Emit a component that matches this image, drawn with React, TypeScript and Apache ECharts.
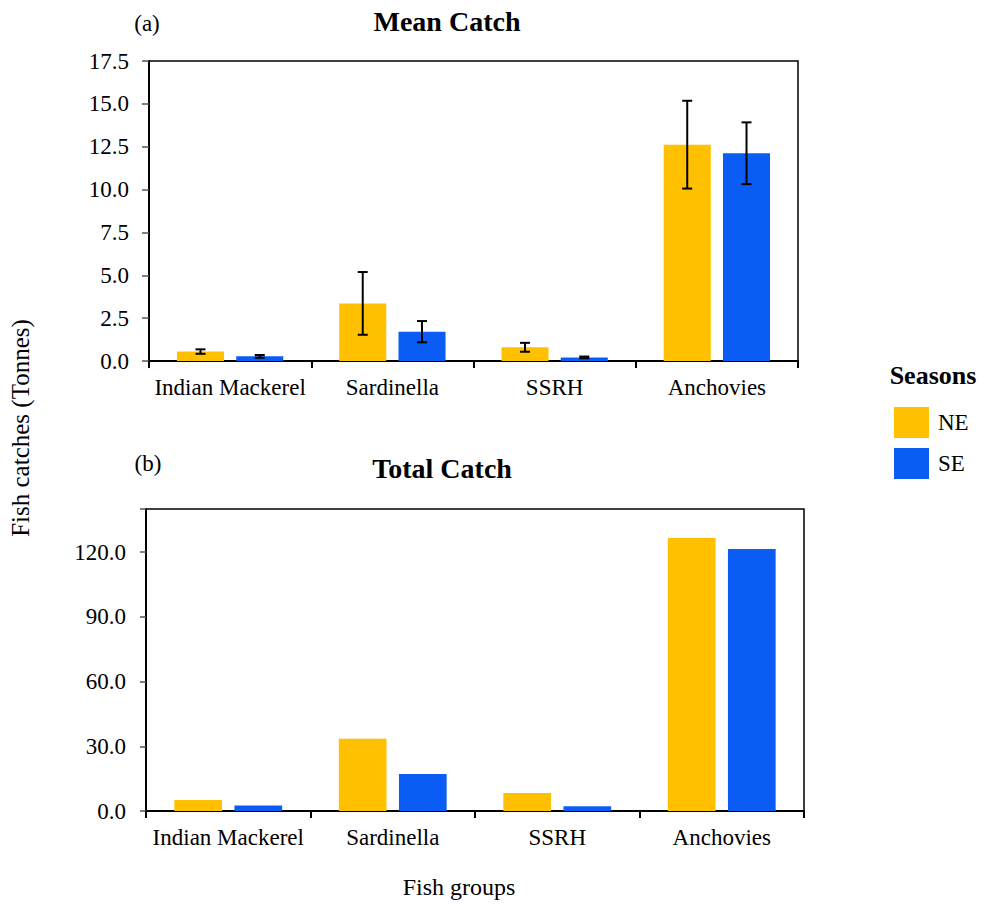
import React, { useEffect, useRef } from "react";
import * as echarts from "echarts";

const categories = ["Indian Mackerel", "Sardinella", "SSRH", "Anchovies"];
const seasons = ["NE", "SE"];
const meanNE = [0.55, 3.36, 0.8, 12.62];
const meanSE = [0.27, 1.71, 0.21, 12.12];
const errNE = [0.13, 1.83, 0.26, 2.56];
const errSE = [0.08, 0.62, 0.05, 1.8];
const totalNE = [5.1, 33.5, 8.3, 126.6];
const totalSE = [2.6, 17.2, 2.2, 121.4];
const meanAxisMax = 17.5;
const totalAxisMax = 140;

const NE_COLOR = "#FFC000";
const SE_COLOR = "#0B5CF5";
const FONT = "Liberation Serif";
const BAR_W = 0.29;
const BAR_GAP = 0.26;

export default function App() {
  const ref = useRef<HTMLDivElement>(null);
  useEffect(() => {
    document.body.style.margin = "0";
    const chart = echarts.init(ref.current!, null, { renderer: "svg" });
    const errData: number[][] = [];
    categories.forEach((_, i) => {
      errData.push([i, meanNE[i], errNE[i], 0]);
      errData.push([i, meanSE[i], errSE[i], 1]);
    });
    const xAxisCommon = {
      type: "category" as const,
      data: categories,
      axisLine: { lineStyle: { color: "#000", width: 2 } },
      axisTick: { show: true, length: 7, lineStyle: { color: "#000", width: 2 } },
      axisLabel: { color: "#000", fontFamily: FONT, fontSize: 23, margin: 15, interval: 0 },
    };
    const option: any = {
      animation: false,
      backgroundColor: "#fff",
      textStyle: { fontFamily: FONT },
      grid: [
        { left: 149, top: 61, width: 649, height: 300, show: true, borderColor: "#000", borderWidth: 1.5, backgroundColor: "transparent" },
        { left: 146, top: 509, width: 658, height: 302, show: true, borderColor: "#000", borderWidth: 1.5, backgroundColor: "transparent" },
      ],
      xAxis: [
        { ...xAxisCommon, gridIndex: 0 },
        { ...xAxisCommon, gridIndex: 1 },
      ],
      yAxis: [
        {
          type: "value",
          gridIndex: 0,
          min: 0,
          max: meanAxisMax,
          interval: 2.5,
          splitLine: { show: false },
          axisLine: { show: true, lineStyle: { color: "#000", width: 2 } },
          axisTick: { show: true, length: 7, lineStyle: { color: "#555", width: 1.5 } },
          axisLabel: { color: "#000", fontFamily: FONT, fontSize: 23, margin: 20, formatter: (v: number) => v.toFixed(1) },
        },
        {
          type: "value",
          gridIndex: 1,
          min: 0,
          max: totalAxisMax,
          interval: 30,
          splitLine: { show: false },
          axisLine: { show: true, lineStyle: { color: "#000", width: 2 } },
          axisTick: { show: true, length: 6, lineStyle: { color: "#555", width: 1.5 } },
          axisLabel: {
            color: "#000",
            fontFamily: FONT,
            fontSize: 23,
            margin: 20,
            formatter: (v: number) => (v >= totalAxisMax ? "" : v.toFixed(1)),
          },
        },
      ],
      legend: {
        orient: "vertical",
        left: 889,
        top: 402,
        icon: "rect",
        itemWidth: 35,
        itemHeight: 31,
        itemGap: 10,
        data: seasons,
        textStyle: { color: "#000", fontFamily: FONT, fontSize: 23, padding: [0, 0, 0, 4] },
        selectedMode: false,
      },
      series: [
        { name: "NE", type: "bar", xAxisIndex: 0, yAxisIndex: 0, data: meanNE, barWidth: BAR_W * 100 + "%", barGap: BAR_GAP * 100 + "%", itemStyle: { color: NE_COLOR } },
        { name: "SE", type: "bar", xAxisIndex: 0, yAxisIndex: 0, data: meanSE, barWidth: BAR_W * 100 + "%", barGap: BAR_GAP * 100 + "%", itemStyle: { color: SE_COLOR } },
        { name: "NE", type: "bar", xAxisIndex: 1, yAxisIndex: 1, data: totalNE, barWidth: BAR_W * 100 + "%", barGap: BAR_GAP * 100 + "%", itemStyle: { color: NE_COLOR } },
        { name: "SE", type: "bar", xAxisIndex: 1, yAxisIndex: 1, data: totalSE, barWidth: BAR_W * 100 + "%", barGap: BAR_GAP * 100 + "%", itemStyle: { color: SE_COLOR } },
        {
          name: "err",
          type: "custom",
          xAxisIndex: 0,
          yAxisIndex: 0,
          z: 10,
          data: errData,
          renderItem: (params: any, api: any) => {
            const idx = api.value(0);
            const m = api.value(1);
            const e = api.value(2);
            const s = api.value(3);
            const band = api.size([1, 0])[0];
            const bw = band * BAR_W;
            const off = (s === 0 ? -1 : 1) * (bw + bw * BAR_GAP) / 2;
            const cx = api.coord([idx, m])[0] + off;
            const yT = api.coord([idx, m + e])[1];
            const yB = api.coord([idx, m - e])[1];
            const hw = 5;
            const st = { stroke: "#000", lineWidth: 2 };
            return {
              type: "group",
              children: [
                { type: "line", shape: { x1: cx, y1: yT, x2: cx, y2: yB }, style: st },
                { type: "line", shape: { x1: cx - hw, y1: yT, x2: cx + hw, y2: yT }, style: st },
                { type: "line", shape: { x1: cx - hw, y1: yB, x2: cx + hw, y2: yB }, style: st },
              ],
            };
          },
        },
      ],
      graphic: [
        { type: "text", x: 447, y: 21, style: { text: "Mean Catch", font: `bold 28px ${FONT}`, fill: "#000", textAlign: "center", textVerticalAlign: "middle" } },
        { type: "text", x: 147, y: 23, style: { text: "(a)", font: `23px ${FONT}`, fill: "#000", textAlign: "center", textVerticalAlign: "middle" } },
        { type: "text", x: 442, y: 468, style: { text: "Total Catch", font: `bold 28px ${FONT}`, fill: "#000", textAlign: "center", textVerticalAlign: "middle" } },
        { type: "text", x: 148, y: 463, style: { text: "(b)", font: `23px ${FONT}`, fill: "#000", textAlign: "center", textVerticalAlign: "middle" } },
        { type: "text", x: 933, y: 375, style: { text: "Seasons", font: `bold 26px ${FONT}`, fill: "#000", textAlign: "center", textVerticalAlign: "middle" } },
        { type: "text", x: 20, y: 428, rotation: Math.PI / 2, style: { text: "Fish catches (Tonnes)", font: `25px ${FONT}`, fill: "#000", textAlign: "center", textVerticalAlign: "middle" } },
        { type: "text", x: 459, y: 887, style: { text: "Fish groups", font: `24px ${FONT}`, fill: "#000", textAlign: "center", textVerticalAlign: "middle" } },
      ],
    };
    chart.setOption(option);
    return () => chart.dispose();
  }, []);
  return <div ref={ref} style={{ width: 985, height: 904 }} />;
}
